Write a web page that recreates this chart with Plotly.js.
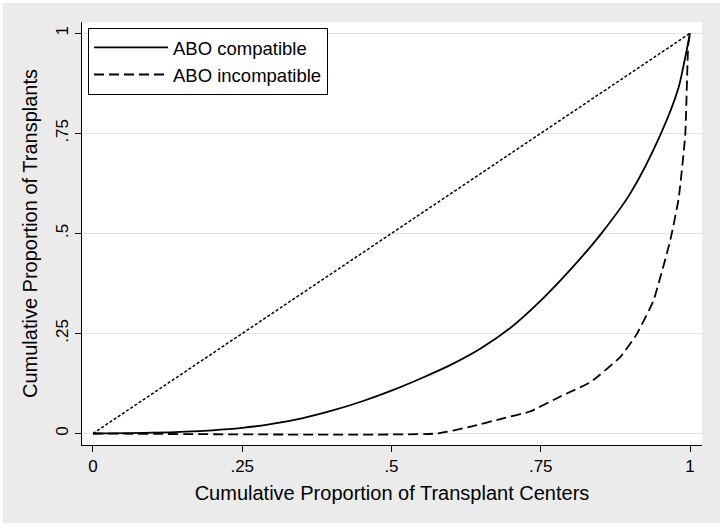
<!DOCTYPE html>
<html>
<head>
<meta charset="utf-8">
<script src="https://cdn.plot.ly/plotly-3.0.1.min.js"></script>
<style>
  html, body { margin: 0; padding: 0; background: #ffffff; }
  #chart { position: absolute; left: 3px; top: 3px; width: 717px; height: 520px; }
</style>
</head>
<body>
<div id="chart"></div>
<script>
// Cumulative proportion of transplant centers (x) vs cumulative proportion of transplants (y)
const compatX = [0, 0.1, 0.2, 0.25, 0.3, 0.35, 0.4, 0.45, 0.5, 0.55, 0.6, 0.65, 0.7, 0.75, 0.8, 0.85, 0.9, 0.95, 0.98, 0.99, 1];
const compatY = [0, 0.002, 0.008, 0.014, 0.024, 0.038, 0.057, 0.08, 0.107, 0.138, 0.172, 0.213, 0.265, 0.332, 0.41, 0.497, 0.6, 0.745, 0.86, 0.925, 1];

const incompatX = [0, 0.576, 0.632, 0.687, 0.732, 0.782, 0.833, 0.883, 0.911, 0.939, 0.967, 0.981, 0.992, 0.997, 1];
const incompatY = [0, 0, 0.017, 0.038, 0.055, 0.092, 0.128, 0.191, 0.249, 0.333, 0.483, 0.587, 0.745, 0.97, 1];

const equalityX = [0, 1];
const equalityY = [0, 1];

const tickVals = [0, 0.25, 0.5, 0.75, 1];
const tickText = ["0", ".25", ".5", ".75", "1"];

const FONT = '"Liberation Sans", Arial, sans-serif';

const traces = [
  {
    x: compatX, y: compatY, type: 'scatter', mode: 'lines',
    name: 'ABO compatible',
    line: { color: '#000000', width: 1.8, shape: 'spline', smoothing: 0.8 }
  },
  {
    x: incompatX, y: incompatY, type: 'scatter', mode: 'lines',
    name: 'ABO incompatible',
    line: { color: '#000000', width: 1.8, dash: '10px,5px', shape: 'spline', smoothing: 0.4 }
  },
  {
    x: equalityX, y: equalityY, type: 'scatter', mode: 'lines',
    showlegend: false, hoverinfo: 'skip',
    line: { color: '#000000', width: 1.5, dash: '3px,2px' }
  }
];

const layout = {
  width: 717, height: 520,
  paper_bgcolor: '#ebebeb',
  plot_bgcolor: '#ffffff',
  margin: { l: 79, r: 18, t: 19, b: 78, pad: 0 },
  font: { family: FONT, color: '#000000', size: 17 },
  showlegend: true,
  legend: {
    x: 0.0097, y: 0.986, xanchor: 'left', yanchor: 'top',
    bgcolor: '#ffffff', bordercolor: '#000000', borderwidth: 1,
    font: { family: FONT, size: 18.5, color: '#000000' },
    itemwidth: 74, tracegroupgap: 0
  },
  xaxis: {
    range: [-0.0184, 1.0201],
    tickmode: 'array', tickvals: tickVals, ticktext: tickText,
    ticks: 'outside', ticklen: 6, tickwidth: 1, tickcolor: '#000000',
    showline: true, linecolor: '#000000', linewidth: 1,
    showgrid: false, zeroline: false,
    tickfont: { family: FONT, size: 17, color: '#000000' },
    title: { text: 'Cumulative Proportion of Transplant Centers', font: { family: FONT, size: 20, color: '#000000' }, standoff: 10 },
    automargin: false
  },
  yaxis: {
    range: [-0.0287, 1.0282],
    tickmode: 'array', tickvals: tickVals, ticktext: tickText,
    tickangle: -90,
    ticks: 'outside', ticklen: 6, tickwidth: 1, tickcolor: '#000000',
    showline: true, linecolor: '#000000', linewidth: 1,
    showgrid: true, gridcolor: '#e2e2e2', gridwidth: 1.3,
    zeroline: false,
    tickfont: { family: FONT, size: 17, color: '#000000' },
    title: { text: 'Cumulative Proportion of Transplants', font: { family: FONT, size: 20, color: '#000000' }, standoff: 10 },
    automargin: false
  }
};

Plotly.newPlot('chart', traces, layout, { displayModeBar: false, staticPlot: true });
</script>
</body>
</html>
